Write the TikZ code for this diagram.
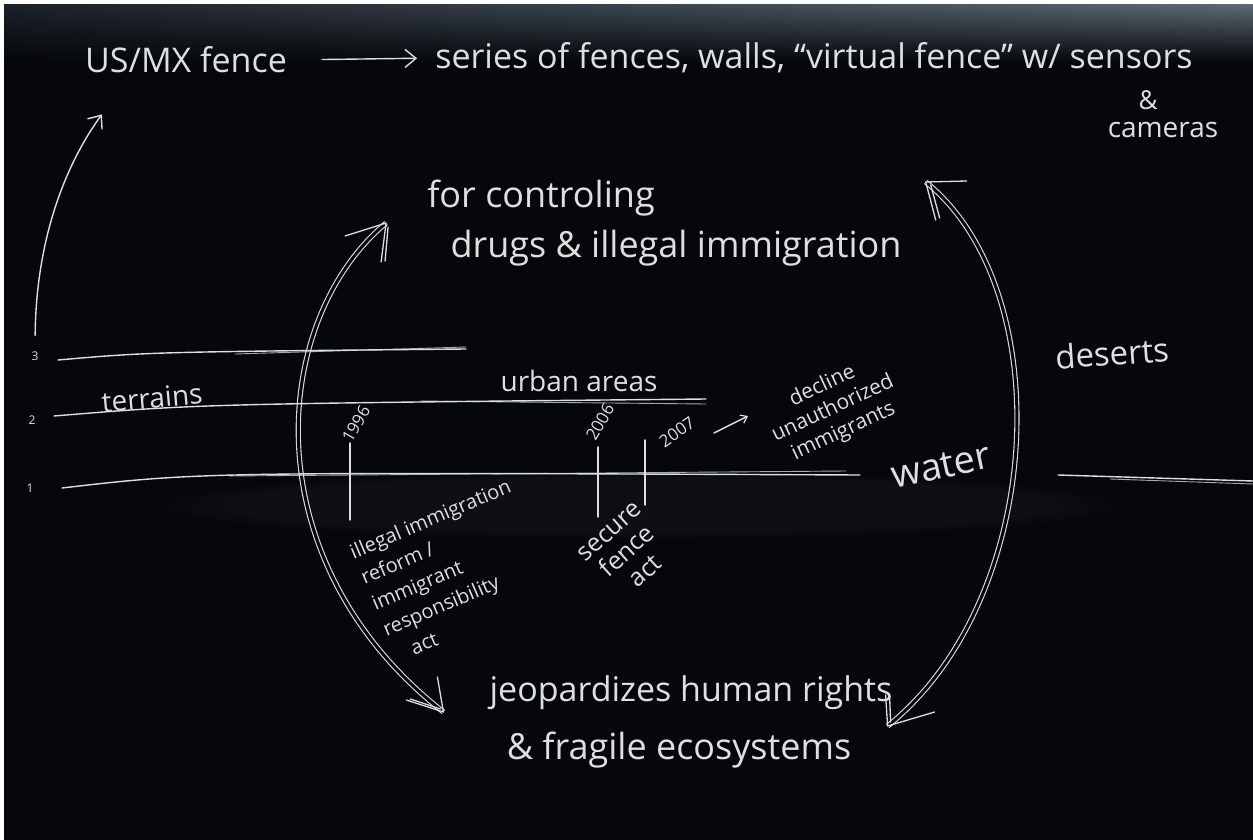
\documentclass[tikz,border=0pt]{standalone}
\usepackage{fontspec}
\setmainfont{Open Sans}
\usetikzlibrary{arrows.meta,fadings,calc,shadings}
\definecolor{chalk}{HTML}{DCE0DE}
\definecolor{board}{HTML}{05070B}
\definecolor{topl}{HTML}{1A2128}
\definecolor{topr}{HTML}{5C6872}
\tikzset{
  hand/.style={text=chalk, inner sep=0pt},
  chalkline/.style={draw=chalk, line width=1.4pt, line cap=round},
  chalkfaint/.style={draw=chalk, line width=0.9pt, line cap=round, opacity=0.75},
  barb/.style={-{Straight Barb[length=11pt, width=18pt, line width=1.4pt]}},
  dbl/.style={draw=chalk, line width=1.1pt, double=board, double distance=3pt, line cap=butt},
  headline/.style={draw=chalk, line width=1.3pt, line cap=round}
}
\begin{document}
\begin{tikzpicture}[x=1pt,y=-1pt]
\useasboundingbox (0,0) rectangle (1253,840);
% board
\fill[white] (0,0) rectangle (1253,840);
\fill[board] (4,5) rectangle (1253,840);
\shade[upper left=topl, upper right=topr, lower left=board, lower right=board] (4,5) rectangle (1253,62);
\fill[white, opacity=0.035, path fading=circle with fuzzy edge 20 percent] (640,505) ellipse (500 and 34);

% texts
\node[hand, font=\fontsize{34}{36}\selectfont] (usmx) at (186,60) {US/MX fence};
\node[hand, font=\fontsize{34}{36}\selectfont] (series) at (814,58) {series of fences, walls, “virtual fence” w/ sensors};
\node[hand, font=\fontsize{26}{28}\selectfont] (amp1) at (1148,100) {\&};
\node[hand, font=\fontsize{28}{30}\selectfont] (cameras) at (1163,130) {cameras};
\node[hand, font=\fontsize{36}{38}\selectfont] (ctrl1) at (541,198) {for controling};
\node[hand, font=\fontsize{36}{38}\selectfont] (ctrl2) at (676,248) {drugs \& illegal immigration};
\node[hand, font=\fontsize{12}{14}\selectfont] (n3) at (35,356) {3};
\node[hand, font=\fontsize{12}{14}\selectfont] (n2) at (32,420) {2};
\node[hand, font=\fontsize{12}{14}\selectfont] (n1) at (30,488) {1};
\node[hand, font=\fontsize{28}{30}\selectfont, rotate=5] (terr) at (152,398) {terrains};
\node[hand, font=\fontsize{28}{30}\selectfont] (urban) at (579,381) {urban areas};
\node[hand, font=\fontsize{38}{40}\selectfont, rotate=12] (water) at (941,466) {water};
\node[hand, font=\fontsize{33}{35}\selectfont, rotate=4] (deserts) at (1112,353) {deserts};
\node[hand, font=\fontsize{17}{19}\selectfont, rotate=60] (y1996) at (356,424) {1996};
\node[hand, font=\fontsize{17}{19}\selectfont, rotate=60] (y2006) at (600,422) {2006};
\node[hand, font=\fontsize{17}{19}\selectfont, rotate=35] (y2007) at (677,432) {2007};
\node[hand, font=\fontsize{21}{25}\selectfont, rotate=25, align=center] (decl) at (833,409) {decline\\unauthorized\\immigrants};
\node[hand, font=\fontsize{20}{28}\selectfont, rotate=23, align=left] (iirira) at (452,570) {illegal immigration\\reform /\\immigrant\\responsibility\\\hspace*{0.9em}act};
\node[hand, font=\fontsize{25}{27}\selectfont, rotate=42, align=center] (sfa) at (628,552) {secure\\fence\\act};
\node[hand, font=\fontsize{34}{36}\selectfont] (jeop) at (691,693) {jeopardizes human rights};
\node[hand, font=\fontsize{36}{38}\selectfont] (fragile) at (679,750) {\& fragile ecosystems};

% big double arrows
\coordinate (lt) at ($(ctrl1.west)+(-41,25)$);
\coordinate (lb) at ($(jeop.west)+(-46,19)$);
\coordinate (rt) at ($(ctrl2.east)+(24,-66)$);
\coordinate (rb) at ($(jeop.east)+(-5,33)$);
\draw[dbl] (lt) .. controls (270,320) and (250,560) .. (lb);
\draw[dbl] (rt) .. controls (1060,290) and (1045,600) .. (rb);
\draw[headline] (lt) -- ++(-41,13) (lt) -- ++(-5,39);
\draw[headline] ($(lt)+(2,4)$) -- ++(-3,34);
\draw[headline] (lb) -- ++(-37,-12) (lb) -- ++(-6,-35);
\draw[headline] ($(lb)+(-3,-3)$) -- ++(-30,-10);
\draw[headline] (rt) -- ++(41,-1) (rt) -- ++(10,38);
\draw[headline] ($(rt)+(5,3)$) -- ++(9,33);
\draw[headline] (rb) -- ++(47,-14) (rb) -- ++(-2,-31);
\draw[headline] ($(rb)+(3,-4)$) -- ++(-1,-26);

% horizontal lines
\draw[chalkline] (58,360) .. controls (150,352) .. (466,349);
\draw[chalkfaint] (235,354) -- (466,347);
\draw[chalkline] (54,416) .. controls (200,404) .. (706,399);
\draw[chalkfaint] (420,401) -- (706,404);
\draw[chalkline] (62,488) .. controls (200,472) .. (860,475);
\draw[chalkfaint] (230,476) -- (846,471);
\draw[chalkline] (1058,475) -- (1253,481);
\draw[chalkfaint] (1110,479) -- (1253,484);

% arrows
\draw[chalkline, barb, shorten <=16pt] (n3.north) .. controls (36,240) and (65,165) .. ($(usmx.south west)+(17,41)$);
\draw[chalkline, barb, shorten <=35pt, shorten >=18pt] (usmx.east) -- (series.west);
\draw[chalkline, -{Straight Barb[length=6pt, width=9pt, line width=1.2pt]}] ($(y2007.center)+(37,1)$) -- ($(y2007.center)+(71,-16)$);

% ticks
\draw[chalkline] ($(y1996.center)+(-6,19)$) -- ($(y1996.center)+(-6,96)$);
\draw[chalkline] ($(y2006.center)+(-2,25)$) -- ($(y2006.center)+(-2,95)$);
\draw[chalkline] ($(y2007.center)+(-32,8)$) -- ($(y2007.center)+(-32,73)$);
\end{tikzpicture}
\end{document}
